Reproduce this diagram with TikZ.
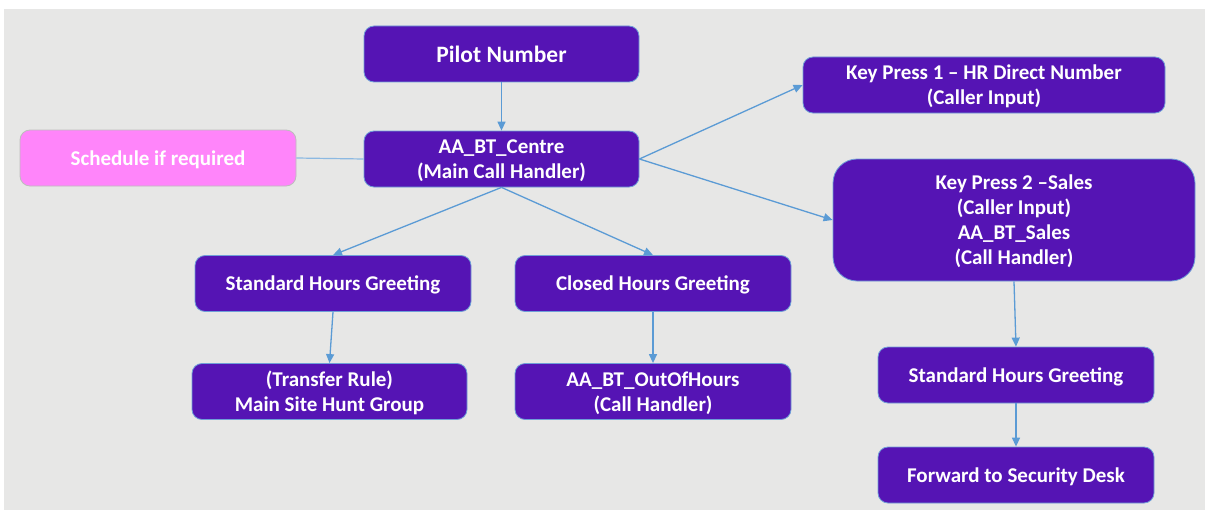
\documentclass[tikz,border=0pt]{standalone}
\usepackage{fontspec}
\setmainfont{Carlito}
\usetikzlibrary{arrows.meta}
\definecolor{btpurple}{HTML}{5514B4}
\definecolor{boxedge}{HTML}{6F9FD8}
\definecolor{pinkbox}{HTML}{FF85FA}
\definecolor{pinkedge}{HTML}{BDBDBD}
\definecolor{arrowblue}{HTML}{5B9BD5}
\definecolor{bggray}{HTML}{E7E7E6}
\tikzset{
  pbox/.style={draw=boxedge, line width=0.8pt, fill=btpurple, rounded corners=10pt,
    text=white, align=center, inner sep=0pt, text depth=0pt,
    font=\bfseries\fontsize{21}{25}\selectfont},
  schedbox/.style={pbox, draw=pinkedge, fill=pinkbox},
  flow/.style={draw=arrowblue, line width=1.3pt, -{Triangle[length=9pt,width=8pt]}},
  plainlink/.style={draw=arrowblue!70, line width=1.2pt}
}
\begin{document}
\begin{tikzpicture}[x=1pt,y=-1pt]
\useasboundingbox (0,0) rectangle (1205,511);
\fill[white] (0,0) rectangle (1205,511);
\fill[bggray] (4,9) rectangle (1205,510);

\node[pbox, minimum width=275pt, minimum height=56pt, font=\bfseries\fontsize{23.5}{27}\selectfont] (pilot) at (501.5,54) {Pilot Number};
\node[pbox, minimum width=275pt, minimum height=56pt] (centre) at (501.5,159) {AA\_BT\_Centre\\(Main Call Handler)};
\node[schedbox, minimum width=276pt, minimum height=56pt] (sched) at (158,158) {Schedule if required};
\node[pbox, minimum width=362pt, minimum height=56pt] (kp1) at (984,85) {Key Press 1 – HR Direct Number\\(Caller Input)};
\node[pbox, rounded corners=24pt, minimum width=362pt, minimum height=122pt] (kp2) at (1014,220) {Key Press 2 –Sales\\(Caller Input)\\AA\_BT\_Sales\\(Call Handler)};
\node[pbox, minimum width=276pt, minimum height=56pt] (std1) at (333,283.5) {Standard Hours Greeting};
\node[pbox, minimum width=276pt, minimum height=56pt] (closed) at (653,283.5) {Closed Hours Greeting};
\node[pbox, minimum width=275pt, minimum height=56pt] (transfer) at (329.5,391.5) {(Transfer Rule)\\Main Site Hunt Group};
\node[pbox, minimum width=276pt, minimum height=56pt] (ooh) at (653,391.5) {AA\_BT\_OutOfHours\\(Call Handler)};
\node[pbox, minimum width=276pt, minimum height=56pt] (std2) at (1016,375) {Standard Hours Greeting};
\node[pbox, minimum width=276pt, minimum height=56pt] (fwd) at (1016,475) {Forward to Security Desk};

\draw[plainlink] (sched.east) -- (centre.west);
\draw[flow] (pilot.south) -- (centre.north);
\draw[flow] (centre.south) -- (std1.north);
\draw[flow] (centre.south) -- (closed.north);
\draw[flow] (centre.east) -- (kp1.west);
\draw[flow] (centre.east) -- (kp2.west);
\draw[flow] (std1.south) -- (transfer.north);
\draw[flow] (closed.south) -- (ooh.north);
\draw[flow] (kp2.south) -- (std2.north);
\draw[flow] (std2.south) -- (fwd.north);
\end{tikzpicture}
\end{document}
